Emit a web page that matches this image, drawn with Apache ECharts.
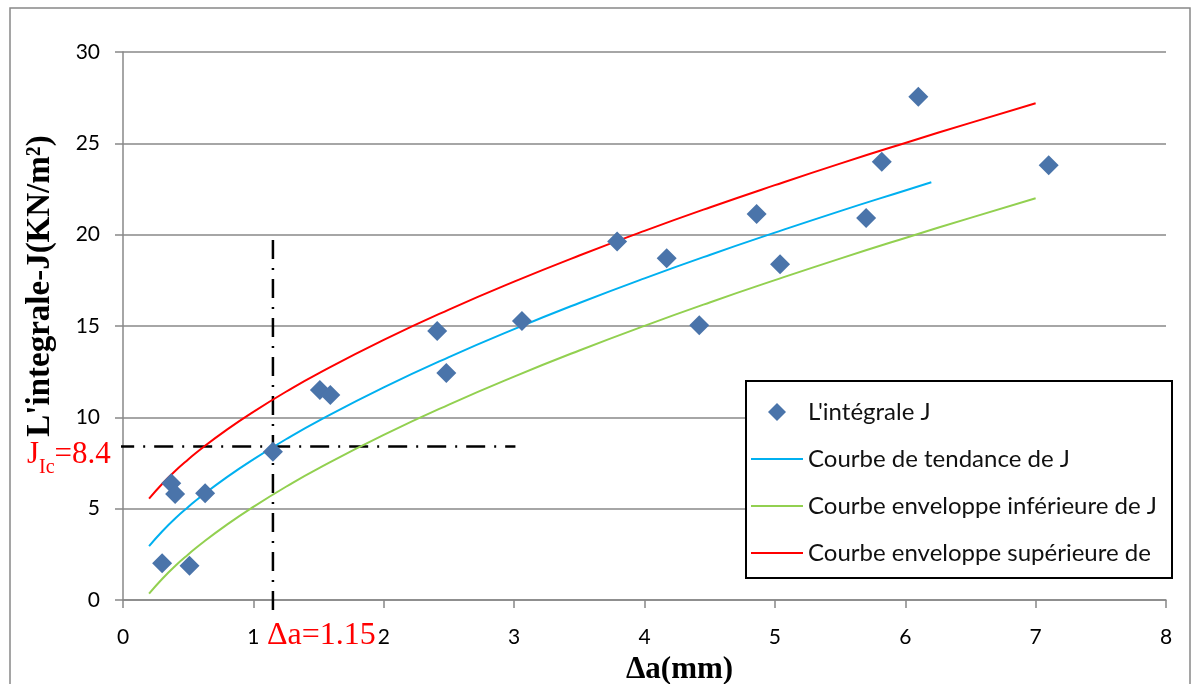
<!DOCTYPE html>
<html>
<head>
<meta charset="utf-8">
<title>Intégrale J</title>
<script src="https://cdn.jsdelivr.net/npm/echarts@6/dist/echarts.min.js"></script>
<style>
  html, body { margin: 0; padding: 0; background: #fff; }
  #chart { width: 1197px; height: 684px; }
</style>
</head>
<body>
<div id="chart"></div>
<script>
// points mesurés
const pointX = [0.30, 0.37, 0.40, 0.51, 0.63, 1.15, 1.51, 1.59, 2.41, 2.48, 3.06, 3.79, 4.17, 4.42, 4.86, 5.04, 5.70, 5.82, 6.10, 7.10];
const pointY = [2.01, 6.39, 5.80, 1.88, 5.84, 8.12, 11.50, 11.22, 14.73, 12.43, 15.27, 19.62, 18.71, 15.04, 21.13, 18.38, 20.91, 23.99, 27.55, 23.80];

// courbe de tendance
const trendX = [0.2, 0.3, 0.4, 0.5, 0.6, 0.8, 1, 1.25, 1.5, 2, 2.5, 3, 3.5, 4, 4.5, 5, 5.5, 6, 6.2];
const trendY = [2.95, 3.75, 4.46, 5.09, 5.68, 6.74, 7.70, 8.80, 9.81, 11.64, 13.30, 14.83, 16.26, 17.61, 18.89, 20.11, 21.29, 22.42, 22.87];

// enveloppes
const envX = [0.2, 0.3, 0.4, 0.5, 0.6, 0.8, 1, 1.25, 1.5, 2, 2.5, 3, 3.5, 4, 4.5, 5, 5.5, 6, 6.5, 7];
const lowerY = [0.35, 1.15, 1.86, 2.49, 3.08, 4.14, 5.10, 6.20, 7.21, 9.04, 10.70, 12.23, 13.66, 15.01, 16.29, 17.51, 18.69, 19.82, 20.92, 21.99];
const upperY = [5.55, 6.35, 7.06, 7.69, 8.28, 9.34, 10.30, 11.40, 12.41, 14.24, 15.90, 17.43, 18.86, 20.21, 21.49, 22.71, 23.89, 25.02, 26.12, 27.19];

// lignes de repère (JIc, Δa)
const vLineX = [1.15, 1.15];
const vLineY = [-0.55, 20];
const hLineX = [-0.06, 3.01];
const hLineY = [8.4, 8.4];

const xTicks = [0, 1, 2, 3, 4, 5, 6, 7, 8];
const yTicks = [0, 5, 10, 15, 20, 25, 30];

const names = ["L'intégrale J", 'Courbe de tendance de J', 'Courbe enveloppe inférieure de J', 'Courbe enveloppe supérieure de J'];

const zip = (xs, ys) => xs.map((x, i) => [x, ys[i]]);

const chart = echarts.init(document.getElementById('chart'));

const diamond = 'path://M0,-1L1,0L0,1L-1,0Z';
const lineIcon = 'path://M0,0L52,0L52,2L0,2Z';

const dashDot = {
  type: 'line',
  symbol: 'none',
  silent: true,
  clip: false,
  z: 1,
  lineStyle: { color: '#000', width: 2.5, type: [19, 9, 2, 9] },
};

const option = {
  animation: false,
  backgroundColor: '#fff',
  grid: { left: 123, right: 31, top: 52, bottom: 84, outerBoundsMode: 'none' },
  xAxis: {
    type: 'value',
    min: xTicks[0],
    max: xTicks[xTicks.length - 1],
    interval: 1,
    name: 'Δa(mm)',
    nameLocation: 'middle',
    nameGap: 54,
    nameTextStyle: {
      fontFamily: 'Liberation Serif',
      fontWeight: 'bold',
      fontSize: 31,
      color: '#000',
      padding: [0, 0, 0, 70],
    },
    axisLine: { lineStyle: { color: '#888', width: 1.5 } },
    axisTick: { length: 8, lineStyle: { color: '#888', width: 1.5 } },
    axisLabel: { margin: 27, fontFamily: 'Lato', fontSize: 21, color: '#000' },
    splitLine: { show: false },
  },
  yAxis: {
    type: 'value',
    min: yTicks[0],
    max: yTicks[yTicks.length - 1],
    interval: 5,
    name: "L'integrale-J(KN/m²)",
    nameLocation: 'middle',
    nameGap: 66,
    nameTextStyle: {
      fontFamily: 'Liberation Serif',
      fontWeight: 'bold',
      fontSize: 33,
      color: '#000',
      padding: [0, 0, 0, 80],
    },
    axisLine: { show: true, lineStyle: { color: '#888', width: 1.5 } },
    axisTick: { show: true, length: 8, lineStyle: { color: '#888', width: 1.5 } },
    axisLabel: { margin: 23, fontFamily: 'Lato', fontSize: 21, color: '#000' },
    splitLine: { lineStyle: { color: '#888', width: 1.5 } },
  },
  legend: {
    orient: 'vertical',
    left: 746,
    top: 381,
    padding: [19, 8, 13, 5],
    itemWidth: 52,
    itemHeight: 18,
    itemGap: 23,
    symbolKeepAspect: true,
    textStyle: {
      fontFamily: 'Lato',
      fontSize: 24,
      color: '#111',
      width: 356,
      overflow: 'truncate',
      ellipsis: '',
    },
    data: [
      { name: names[0], icon: diamond },
      { name: names[1], icon: lineIcon },
      { name: names[2], icon: lineIcon },
      { name: names[3], icon: lineIcon },
    ],
  },
  graphic: [
    {
      type: 'rect',
      shape: { x: 10, y: 8, width: 1180, height: 700 },
      style: { fill: 'none', stroke: '#888', lineWidth: 1.5 },
      silent: true,
      z: -1,
    },
    {
      // cadre de la légende
      type: 'rect',
      shape: { x: 746, y: 381, width: 426, height: 197 },
      style: { fill: '#fff', stroke: '#000', lineWidth: 2 },
      silent: true,
      z: 3,
    },
    {
      type: 'text',
      left: 27,
      top: 439,
      z: 5,
      style: {
        text: '{a|J}{b|Ic}{a|=8.4}',
        rich: {
          a: { fontFamily: 'Liberation Serif', fontSize: 31, lineHeight: 34, fill: '#f00', verticalAlign: 'top' },
          b: { fontFamily: 'Liberation Serif', fontSize: 20, lineHeight: 21, fill: '#f00', verticalAlign: 'top', padding: [19, 0, 0, 0] },
        },
      },
    },
    {
      type: 'text',
      left: 267,
      top: 619,
      style: {
        text: 'Δa=1.15',
        fontFamily: 'Liberation Serif',
        fontSize: 32,
        lineHeight: 34,
        fill: '#f00',
      },
    },
  ],
  series: [
    Object.assign({ data: zip(vLineX, vLineY) }, dashDot),
    Object.assign({ data: zip(hLineX, hLineY) }, dashDot),
    {
      name: names[1],
      type: 'line',
      smooth: true,
      symbol: 'none',
      lineStyle: { color: '#00b0f0', width: 2 },
      itemStyle: { color: '#00b0f0' },
      data: zip(trendX, trendY),
    },
    {
      name: names[2],
      type: 'line',
      smooth: true,
      symbol: 'none',
      lineStyle: { color: '#92d050', width: 2 },
      itemStyle: { color: '#92d050' },
      data: zip(envX, lowerY),
    },
    {
      name: names[3],
      type: 'line',
      smooth: true,
      symbol: 'none',
      lineStyle: { color: '#ff0000', width: 2 },
      itemStyle: { color: '#ff0000' },
      data: zip(envX, upperY),
    },
    {
      name: names[0],
      type: 'scatter',
      symbol: diamond,
      symbolSize: 20,
      itemStyle: { color: '#4a74aa', opacity: 1 },
      z: 5,
      data: zip(pointX, pointY),
    },
  ],
};

chart.setOption(option);
</script>
</body>
</html>
